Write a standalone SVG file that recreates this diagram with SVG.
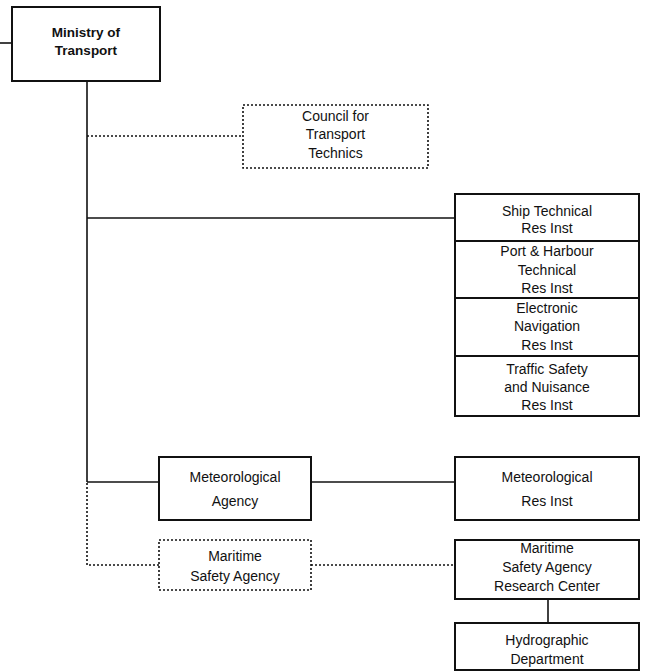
<svg xmlns="http://www.w3.org/2000/svg" width="650" height="672" viewBox="0 0 650 672">
<style>
.box{fill:#fff;stroke:#111;stroke-width:2}
.dbox{fill:#fff;stroke:#111;stroke-width:1.6;stroke-dasharray:2 2}
.ln{fill:none;stroke:#111;stroke-width:1.6}
.dl{fill:none;stroke:#111;stroke-width:1.6;stroke-dasharray:2 2}
text{font-family:"Liberation Sans",Arial,sans-serif;font-size:14px;fill:#111;text-anchor:middle}
.b{font-weight:bold;font-size:13.5px}
</style>
<rect width="650" height="672" fill="#fff"/>
<g id="connectors">
<path class="ln" d="M0 43H12"/>
<path class="ln" d="M87 81V482"/>
<path class="dl" d="M87 136H243"/>
<path class="ln" d="M87 218H455"/>
<path class="ln" d="M87 482H159"/>
<path class="ln" d="M311 482H455"/>
<path class="dl" d="M87 483V565H159"/>
<path class="dl" d="M311 565H455"/>
<path class="ln" d="M548 599V623"/>
</g>
<g id="ministry">
<rect class="box" x="12" y="7" width="148" height="74"/>
<text class="b" x="86" y="37">Ministry of</text>
<text class="b" x="86" y="55">Transport</text>
</g>
<g id="council">
<rect class="dbox" x="243" y="105" width="185" height="63"/>
<text x="335.5" y="121">Council for</text>
<text x="335.5" y="139">Transport</text>
<text x="335.5" y="158">Technics</text>
</g>
<g id="ship">
<rect class="box" x="455" y="194" width="184" height="47"/>
<text x="547" y="216">Ship Technical</text>
<text x="547" y="233">Res Inst</text>
</g>
<g id="port">
<rect class="box" x="455" y="241" width="184" height="57"/>
<text x="547" y="256">Port &amp; Harbour</text>
<text x="547" y="275">Technical</text>
<text x="547" y="293">Res Inst</text>
</g>
<g id="electronic">
<rect class="box" x="455" y="298" width="184" height="58"/>
<text x="547" y="313">Electronic</text>
<text x="547" y="331">Navigation</text>
<text x="547" y="350">Res Inst</text>
</g>
<g id="traffic">
<rect class="box" x="455" y="356" width="184" height="60"/>
<text x="547" y="374">Traffic Safety</text>
<text x="547" y="392">and Nuisance</text>
<text x="547" y="410">Res Inst</text>
</g>
<g id="met-agency">
<rect class="box" x="159" y="457" width="152" height="63"/>
<text x="235" y="482">Meteorological</text>
<text x="235" y="506">Agency</text>
</g>
<g id="met-res">
<rect class="box" x="455" y="457" width="184" height="63"/>
<text x="547" y="482">Meteorological</text>
<text x="547" y="506">Res Inst</text>
</g>
<g id="msa">
<rect class="dbox" x="159" y="540" width="152" height="50"/>
<text x="235" y="561">Maritime</text>
<text x="235" y="581">Safety Agency</text>
</g>
<g id="msa-rc">
<rect class="box" x="455" y="540" width="184" height="59"/>
<text x="547" y="553">Maritime</text>
<text x="547" y="572">Safety Agency</text>
<text x="547" y="591">Research Center</text>
</g>
<g id="hydro">
<rect class="box" x="455" y="623" width="184" height="47"/>
<text x="547" y="645">Hydrographic</text>
<text x="547" y="664">Department</text>
</g>
</svg>
